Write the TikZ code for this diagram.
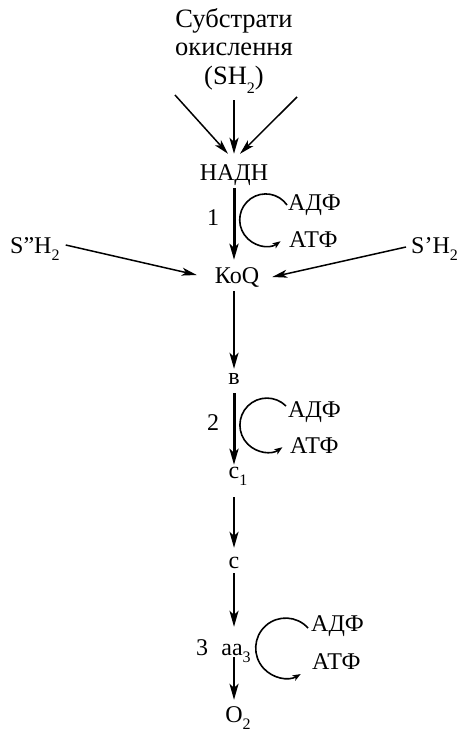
\documentclass[tikz,border=0pt]{standalone}
\usepackage{fontspec}
\setmainfont{Liberation Serif}
\usetikzlibrary{arrows.meta}
\newcommand{\sbs}[1]{\raisebox{-0.32em}{\fontsize{16}{16}\selectfont #1}}
\begin{document}
\begin{tikzpicture}[x=1pt,y=-1pt,
  font=\fontsize{24}{28}\selectfont,
  lbl/.style={inner sep=0pt, text height=17pt, text depth=5pt, anchor=base},
  toplbl/.style={lbl, font=\fontsize{26.5}{30}\selectfont},
  arr/.style={-{Stealth[length=16pt,width=9pt,inset=4pt]}, line width=2pt},
  thickarr/.style={arr, line width=3pt},
  thinarr/.style={-{Stealth[length=15pt,width=8pt,inset=4pt]}, line width=1.5pt},
  cyc/.style={line width=1.6pt, -{Stealth[length=8pt,width=6pt,inset=2pt]}}]
\useasboundingbox (0,0) rectangle (460,733);
% top substrate
\node[toplbl] (sub1) at (234,28) {Субстрати};
\node[toplbl] (sub2) at (234,56) {окислення};
\node[toplbl] (sh2) at (234,85) {(SH\sbs{2})};
\node[lbl] (nadh) at (234,180) {НАДН};
\coordinate (tl) at (175,95);
\coordinate (tr) at (297,97);
\draw[thinarr] (tl) -- ([xshift=-6pt,yshift=9pt]nadh.north);
\draw[thinarr] (tr) -- ([xshift=6pt,yshift=9pt]nadh.north);
\draw[arr, shorten <=10pt, shorten >=9pt] (sh2.south) -- (nadh.north);
% KoQ
\node[lbl] (koq) at (237,283) {КоQ};
\node[lbl, anchor=base west] (s2) at (10,253) {S”H\sbs{2}};
\node[lbl, anchor=base west] (s1) at (411,253) {S’H\sbs{2}};
\draw[thickarr, shorten <=3pt, shorten >=6pt] (nadh.south) -- ([xshift=-3pt]koq.north);
\node[lbl] (n1) at (213,225) {1};
\coordinate (s2e) at ([xshift=6pt,yshift=2pt]s2.east);
\coordinate (s1w) at ([xshift=-5pt,yshift=0pt]s1.west);
\draw[thinarr] (s2e) -- ([xshift=-18pt,yshift=2pt]koq.west);
\draw[thinarr] (s1w) -- ([xshift=13pt,yshift=0pt]koq.east);
\node[lbl, anchor=base west] (adf1) at (288,210) {АДФ};
\node[lbl, anchor=base west] (atf1) at (289,247) {АТФ};
\draw[cyc] (287,205) arc[start angle=35, end angle=305, radius=26pt];
% b
\node[lbl] (b) at (234,384) {в};
\draw[arr, shorten <=3pt, shorten >=-2pt] ([xshift=-3pt]koq.south) -- (b.north);
\node[lbl] (c1) at (234,478) {c\rlap{\sbs{1}}};
\draw[thickarr, shorten <=4pt, shorten >=-4pt] (b.south) -- (c1.north);
\node[lbl] (n2) at (213,430) {2};
\node[lbl, anchor=base west] (adf2) at (288,417) {АДФ};
\node[lbl, anchor=base west] (atf2) at (290,453) {АТФ};
\draw[cyc] (286,406) arc[start angle=45, end angle=305, radius=27pt];
% c
\node[lbl] (c) at (234,568) {c};
\draw[arr, shorten <=14pt, shorten >=3pt] (c1.south) -- (c.north);
\node[lbl] (aa3) at (232,655) {aa\rlap{\sbs{3}}};
\draw[arr, shorten <=0pt, shorten >=11pt] (c.south) -- ([xshift=2pt]aa3.north);
\node[lbl] (n3) at (202,655) {3};
\node[lbl, anchor=base west] (adf3) at (311,631) {АДФ};
\node[lbl, anchor=base west] (atf3) at (312,669) {АТФ};
\draw[cyc] (308,628) arc[start angle=42, end angle=300, radius=30pt];
\node[lbl] (o2) at (234,722) {O\rlap{\sbs{2}}};
\draw[arr, shorten <=-3pt, shorten >=5pt] ([xshift=2pt]aa3.south) -- (o2.north);
\end{tikzpicture}
\end{document}
